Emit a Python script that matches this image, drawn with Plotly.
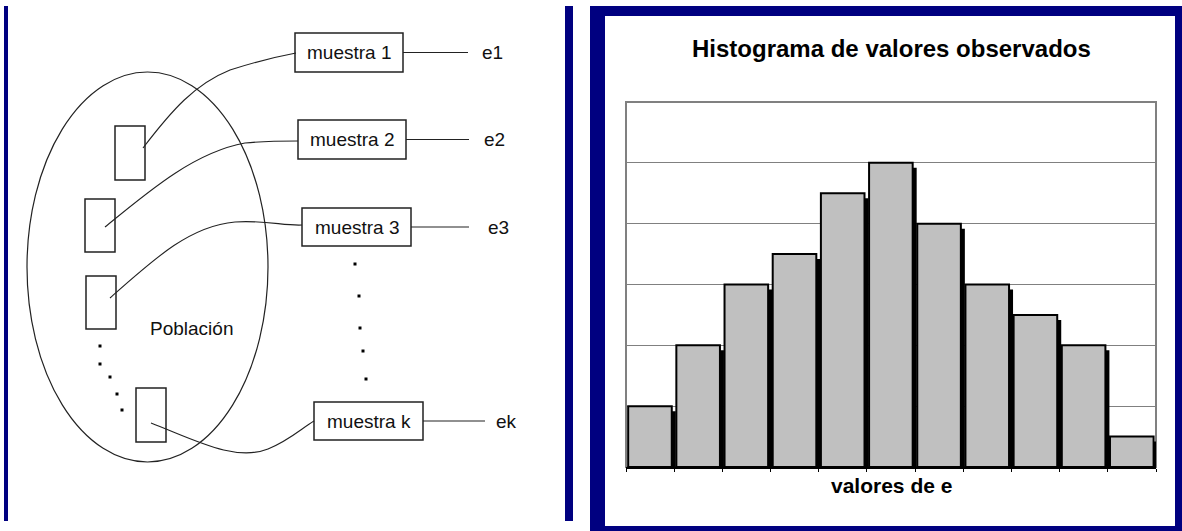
import plotly.graph_objects as go

# ---------------- data ----------------
# Histogram (right panel)
bins = list(range(11))
counts = [2, 4, 6, 7, 9, 10, 8, 6, 5, 4, 1]
y_max = 12
y_step = 2
hist_title = "Histograma de valores observados"
x_title = "valores de e"

# Diagram (left panel), in pixel units of the left panel
sample_labels = ["muestra 1", "muestra 2", "muestra 3", "muestra k"]
sample_x0 = [295, 298, 302, 314]
sample_x1 = [403, 406, 411, 423]
sample_y0 = [33, 120, 208, 402]
sample_y1 = [72, 159, 246, 440]
estimate_labels = ["e1", "e2", "e3", "ek"]
estimate_line_end = [468, 469, 469, 485]
estimate_label_x = [480, 482, 486, 494]
unit_x0 = [115, 85, 86, 136]
unit_x1 = [145, 115, 116, 166]
unit_y0 = [126, 199, 276, 388]
unit_y1 = [180, 252, 329, 442]
link_paths = [
    "M 143,148 C 172,110 195,84 230,70 C 255,62 280,56 296,53",
    "M 105,227 C 150,190 195,152 245,143 C 265,141 285,141 298,141",
    "M 110,298 C 155,258 190,226 235,222 C 265,220 285,226 302,225",
    "M 151,423 C 195,440 235,462 268,449 C 290,440 302,428 314,421",
]
left_dots_x = [100, 100, 110, 117, 122]
left_dots_y = [346, 364, 377, 394, 410]
mid_dots_x = [355, 359, 360, 363, 366]
mid_dots_y = [264, 296, 328, 351, 379]
population_label = "Población"

W, H = 1182, 531
NAVY = "#000080"
FONT = "Liberation Sans, Arial, sans-serif"

def px(x):
    return x / W

def py(y):
    return 1 - y / H

fig = go.Figure()

# ---------------- histogram ----------------
bar_w = 0.905
bar_off = -0.455
shadow_dx = 4 / 48.2
shadow_dy = 5 / (365 / y_max)

fig.add_trace(go.Bar(
    x=bins, y=[c - shadow_dy for c in counts],
    width=bar_w, offset=bar_off + shadow_dx,
    marker=dict(color="black", line=dict(width=0)),
    hoverinfo="skip", showlegend=False, xaxis="x", yaxis="y",
))
fig.add_trace(go.Bar(
    x=bins, y=counts,
    width=bar_w, offset=bar_off,
    marker=dict(color="#C0C0C0", line=dict(color="black", width=2)),
    showlegend=False, xaxis="x", yaxis="y",
))

# ---------------- diagram dots ----------------
fig.add_trace(go.Scatter(
    x=left_dots_x + mid_dots_x, y=left_dots_y + mid_dots_y,
    mode="markers", marker=dict(symbol="square", size=3, color="black"),
    hoverinfo="skip", showlegend=False, xaxis="x2", yaxis="y2",
))

shapes = []
# right panel frame (paper, below everything)
shapes.append(dict(type="rect", xref="paper", yref="paper", layer="below",
                   x0=px(590), x1=px(1182), y0=py(531), y1=py(6),
                   fillcolor=NAVY, line=dict(width=0)))
shapes.append(dict(type="rect", xref="paper", yref="paper", layer="below",
                   x0=px(605), x1=px(1175), y0=py(526), y1=py(16),
                   fillcolor="white", line=dict(width=0)))
# plot area border (gray)
shapes.append(dict(type="rect", xref="paper", yref="paper", layer="below",
                   x0=px(626), x1=px(1156), y0=py(467), y1=py(102),
                   fillcolor="rgba(0,0,0,0)", line=dict(color="#808080", width=2)))
# left panel blue bars
shapes.append(dict(type="rect", xref="paper", yref="paper", layer="below",
                   x0=px(4), x1=px(8), y0=py(521), y1=py(6),
                   fillcolor=NAVY, line=dict(width=0)))
shapes.append(dict(type="rect", xref="paper", yref="paper", layer="below",
                   x0=px(565), x1=px(573), y0=py(521), y1=py(6),
                   fillcolor=NAVY, line=dict(width=0)))

# population ellipse
shapes.append(dict(type="circle", xref="x2", yref="y2",
                   x0=27, x1=268, y0=72, y1=462,
                   line=dict(color="#222222", width=1.2)))
# unit rectangles inside the population
for x0, x1, y0, y1 in zip(unit_x0, unit_x1, unit_y0, unit_y1):
    shapes.append(dict(type="rect", xref="x2", yref="y2",
                       x0=x0, x1=x1, y0=y0, y1=y1,
                       line=dict(color="#222222", width=1.5)))
# sample boxes and estimate lines
for x0, x1, y0, y1, xe in zip(sample_x0, sample_x1, sample_y0, sample_y1, estimate_line_end):
    shapes.append(dict(type="rect", xref="x2", yref="y2",
                       x0=x0, x1=x1, y0=y0, y1=y1,
                       line=dict(color="#222222", width=1.5)))
    ym = (y0 + y1) / 2
    shapes.append(dict(type="line", xref="x2", yref="y2",
                       x0=x1, x1=xe, y0=ym, y1=ym,
                       line=dict(color="#222222", width=1.2)))
# connecting curves
for p in link_paths:
    shapes.append(dict(type="path", xref="x2", yref="y2", path=p,
                       line=dict(color="#222222", width=1.1)))

annotations = []
for lab, x0, x1, y0, y1 in zip(sample_labels, sample_x0, sample_x1, sample_y0, sample_y1):
    annotations.append(dict(text=lab, x=(x0 + x1) / 2, y=(y0 + y1) / 2,
                            xref="x2", yref="y2", showarrow=False,
                            xanchor="center", yanchor="middle",
                            font=dict(family=FONT, size=19, color="#111111")))
for lab, xl, y0, y1 in zip(estimate_labels, estimate_label_x, sample_y0, sample_y1):
    annotations.append(dict(text=lab, x=xl, y=(y0 + y1) / 2,
                            xref="x2", yref="y2", showarrow=False,
                            xanchor="left", yanchor="middle",
                            font=dict(family=FONT, size=19, color="#111111")))
annotations.append(dict(text=population_label, x=191, y=328, xref="x2", yref="y2",
                        showarrow=False, xanchor="center", yanchor="middle",
                        font=dict(family=FONT, size=19, color="#111111")))
annotations.append(dict(text="<b>" + hist_title + "</b>", x=px(891), y=py(48),
                        xref="paper", yref="paper", showarrow=False,
                        xanchor="center", yanchor="middle",
                        font=dict(family=FONT, size=24, color="black")))
annotations.append(dict(text="<b>" + x_title + "</b>", x=px(891), y=py(485),
                        xref="paper", yref="paper", showarrow=False,
                        xanchor="center", yanchor="middle",
                        font=dict(family=FONT, size=21, color="black")))

fig.update_layout(
    width=W, height=H,
    margin=dict(l=0, r=0, t=0, b=0),
    paper_bgcolor="white", plot_bgcolor="rgba(0,0,0,0)",
    barmode="overlay", showlegend=False,
    shapes=shapes, annotations=annotations,
    xaxis=dict(domain=[px(626), px(1156)], range=[-0.5, 10.5], anchor="y",
               showgrid=False, zeroline=False,
               showline=True, linecolor="black", linewidth=2,
               tickmode="array", tickvals=[b - 0.5 for b in bins] + [bins[-1] + 0.5],
               ticks="outside", ticklen=3, tickcolor="black", tickwidth=1,
               showticklabels=False, fixedrange=True),
    yaxis=dict(domain=[py(467), py(102)], range=[0, y_max], anchor="x",
               dtick=y_step, tick0=0, showgrid=True, gridcolor="#808080", gridwidth=1,
               zeroline=False, showline=False, showticklabels=False, ticks="",
               fixedrange=True),
    xaxis2=dict(domain=[0, 0.5], range=[0, 591], anchor="y2", visible=False,
                fixedrange=True),
    yaxis2=dict(domain=[0, 1], range=[531, 0], anchor="x2", visible=False,
                fixedrange=True),
)

fig.write_html(
    "out.html",
    config={"displayModeBar": False},
    post_script="document.body.style.margin='0px';document.body.style.overflow='hidden';",
)
